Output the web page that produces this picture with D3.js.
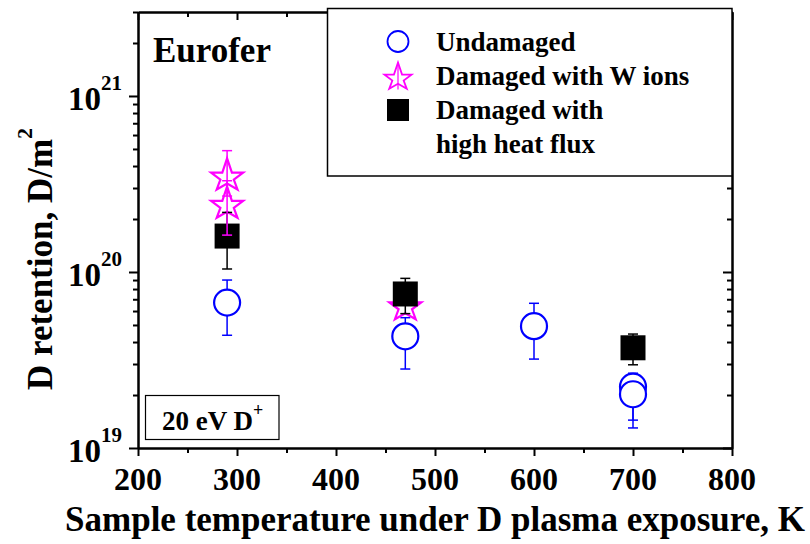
<!DOCTYPE html>
<html>
<head>
<meta charset="utf-8">
<script src="https://cdn.jsdelivr.net/npm/d3@7"></script>
<style>
  body { margin: 0; background: #fff; }
  text { font-family: "Liberation Serif", "Times New Roman", serif; font-weight: bold; fill: #000; }
</style>
</head>
<body>
<svg id="chart" width="810" height="544"></svg>
<script>
// ---- data ----
var xTicks = [200, 300, 400, 500, 600, 700, 800];
var xMinor = [250, 350, 450, 550, 650, 750];
var yExps = [19, 20, 21];

// undamaged (blue open circles)
var undamagedT  = [290, 470, 600, 700, 700];
var undamagedD  = [6.7e19, 4.31e19, 4.92e19, 2.23e19, 2.02e19];
var undamagedLo = [4.37e19, 2.81e19, 3.2e19, 1.44e19, 1.30e19];
var undamagedHi = [9.0e19, 5.5e19, 6.64e19, 2.66e19, 2.4e19];

// damaged with W ions (magenta stars)
var wIonsT  = [290, 290, 470];
var wIonsD  = [3.59e20, 2.48e20, 6.58e19];
var wIonsLo = [2.7e20, 1.62e20, 6.58e19];
var wIonsHi = [4.89e20, 3.3e20, 6.58e19];

// damaged with high heat flux (black squares)
var hhfT  = [290, 470, 700];
var hhfD  = [1.6e20, 7.5e19, 3.71e19];
var hhfLo = [1.04e20, 5.8e19, 2.97e19];
var hhfHi = [2.18e20, 9.2e19, 4.44e19];

var legendLabels = ["Undamaged", "Damaged with W ions", "Damaged with", "high heat flux"];

// ---- layout ----
var svg = d3.select("#chart");
var plotL = 138, plotR = 732, plotT = 12, plotB = 448;

var x = d3.scaleLinear().domain([200, 800]).range([plotL, plotR]);
var y = d3.scaleLog().domain([1e19, 3e21]).range([plotB, plotT]);

var yMajor = yExps.map(function(e) { return Math.pow(10, e); });
var yMinor = [];
yExps.forEach(function(e) {
  for (var m = 2; m <= 9; m++) {
    var v = m * Math.pow(10, e);
    if (v <= 3e21) yMinor.push(v);
  }
});

function styleAxis(g) {
  g.select(".domain").attr("stroke", "#000").attr("stroke-width", 2);
  g.selectAll(".tick line").attr("stroke", "#000").attr("stroke-width", 2);
  g.selectAll(".tick text").remove();
}

// bottom axis (ticks out)
svg.append("g").attr("transform", "translate(0," + plotB + ")")
  .call(d3.axisBottom(x).tickValues(xTicks).tickSize(8).tickSizeOuter(0)).call(styleAxis);
svg.append("g").attr("transform", "translate(0," + plotB + ")")
  .call(d3.axisBottom(x).tickValues(xMinor).tickSize(5).tickSizeOuter(0)).call(styleAxis);
// top axis (ticks in)
svg.append("g").attr("transform", "translate(0," + plotT + ")")
  .call(d3.axisBottom(x).tickValues(xTicks).tickSize(8).tickSizeOuter(0)).call(styleAxis);
svg.append("g").attr("transform", "translate(0," + plotT + ")")
  .call(d3.axisBottom(x).tickValues(xMinor).tickSize(5).tickSizeOuter(0)).call(styleAxis);
// left axis (ticks out)
svg.append("g").attr("transform", "translate(" + plotL + ",0)")
  .call(d3.axisLeft(y).tickValues(yMajor).tickSize(9).tickSizeOuter(0)).call(styleAxis);
svg.append("g").attr("transform", "translate(" + plotL + ",0)")
  .call(d3.axisLeft(y).tickValues(yMinor).tickSize(5).tickSizeOuter(0)).call(styleAxis);
// right axis (ticks in)
svg.append("g").attr("transform", "translate(" + plotR + ",0)")
  .call(d3.axisLeft(y).tickValues(yMajor).tickSize(9).tickSizeOuter(0)).call(styleAxis);
svg.append("g").attr("transform", "translate(" + plotR + ",0)")
  .call(d3.axisLeft(y).tickValues(yMinor).tickSize(5).tickSizeOuter(0)).call(styleAxis);

// tick labels
svg.append("g").selectAll("text").data(xTicks).enter().append("text")
  .attr("x", function(d) { return x(d); })
  .attr("y", 490)
  .attr("text-anchor", "middle")
  .attr("font-size", 32)
  .text(function(d) { return d; });

var yLab = svg.append("g").selectAll("text").data(yExps).enter().append("text")
  .attr("x", 122)
  .attr("y", function(d) { return y(Math.pow(10, d)) + 14; })
  .attr("text-anchor", "end")
  .attr("font-size", 33);
yLab.append("tspan").text("10");
yLab.append("tspan").attr("font-size", 21).attr("dy", -20).text(function(d) { return d; });

// axis titles
svg.append("text")
  .attr("x", (plotL + plotR) / 2)
  .attr("y", 531)
  .attr("text-anchor", "middle")
  .attr("font-size", 35)
  .text("Sample temperature under D plasma exposure, K");

var yTitle = svg.append("text")
  .attr("transform", "translate(52,390) rotate(-90)")
  .attr("font-size", 35);
yTitle.append("tspan").text("D retention, D/m");
yTitle.append("tspan").attr("font-size", 22).attr("dy", -20).text("2");

// ---- marks ----
var blue = "#0000ff", magenta = "#ff00ff";

function errorBars(T, Lo, Hi, color, cap) {
  var g = svg.append("g").attr("stroke", color).attr("stroke-width", 1.5);
  T.forEach(function(t, i) {
    if (Lo[i] === Hi[i]) return;
    var cx = x(t);
    g.append("line").attr("x1", cx).attr("x2", cx).attr("y1", y(Lo[i])).attr("y2", y(Hi[i]));
    g.append("line").attr("x1", cx - cap).attr("x2", cx + cap).attr("y1", y(Lo[i])).attr("y2", y(Lo[i]));
    g.append("line").attr("x1", cx - cap).attr("x2", cx + cap).attr("y1", y(Hi[i])).attr("y2", y(Hi[i]));
  });
}

// star shape used by the original plotting program
var starPts = [[0,-1],[0.3,-0.1],[1,-0.1],[0.42,0.33],[0.65,0.95],[0,0.58],
               [-0.65,0.95],[-0.42,0.33],[-1,-0.1],[-0.3,-0.1]];
function starPath(s) {
  return "M" + starPts.map(function(p) { return (p[0] * s) + "," + (p[1] * s); }).join("L") + "Z";
}

// undamaged
errorBars(undamagedT, undamagedLo, undamagedHi, blue, 5);
svg.append("g").selectAll("circle").data(undamagedT).enter().append("circle")
  .attr("cx", function(d) { return x(d); })
  .attr("cy", function(d, i) { return y(undamagedD[i]); })
  .attr("r", 13)
  .attr("fill", "#fff")
  .attr("stroke", blue)
  .attr("stroke-width", 2.2);

// stars (symbols)
svg.append("g").selectAll("path").data(wIonsT).enter().append("path")
  .attr("transform", function(d, i) { return "translate(" + x(d) + "," + y(wIonsD[i]) + ")"; })
  .attr("d", starPath(16))
  .attr("fill", "none")
  .attr("stroke", magenta)
  .attr("stroke-width", 2.2);

// high heat flux
errorBars(hhfT, hhfLo, hhfHi, "#000", 5);
svg.append("g").selectAll("rect").data(hhfT).enter().append("rect")
  .attr("x", function(d) { return x(d) - 12.5; })
  .attr("y", function(d, i) { return y(hhfD[i]) - 12.5; })
  .attr("width", 25)
  .attr("height", 25)
  .attr("fill", "#000");

// star error bars on top
errorBars(wIonsT, wIonsLo, wIonsHi, magenta, 5);

// ---- annotations ----
svg.append("text").attr("x", 153).attr("y", 62).attr("font-size", 35).text("Eurofer");

svg.append("rect").attr("x", 145.5).attr("y", 395.5).attr("width", 133.5).attr("height", 44)
  .attr("fill", "#fff").attr("stroke", "#000").attr("stroke-width", 1.2);
var ion = svg.append("text").attr("x", 162).attr("y", 430).attr("font-size", 27);
ion.append("tspan").text("20 eV D");
ion.append("tspan").attr("font-size", 18).attr("dy", -14).text("+");

// ---- legend ----
var lg = svg.append("g");
lg.append("rect").attr("x", 327.5).attr("y", 8.5).attr("width", 404.5).attr("height", 167.5)
  .attr("fill", "#fff").attr("stroke", "#000").attr("stroke-width", 1.5);
lg.append("circle").attr("cx", 398).attr("cy", 41.5).attr("r", 10.5)
  .attr("fill", "#fff").attr("stroke", blue).attr("stroke-width", 1.8);
lg.append("path").attr("transform", "translate(398,76)").attr("d", starPath(13.5))
  .attr("fill", "none").attr("stroke", magenta).attr("stroke-width", 1.8);
lg.append("line").attr("x1", 398).attr("x2", 398).attr("y1", 62.5).attr("y2", 89.5)
  .attr("stroke", magenta).attr("stroke-width", 1.2);
lg.append("rect").attr("x", 387).attr("y", 99).attr("width", 22).attr("height", 22).attr("fill", "#000");
lg.selectAll("text.lab").data(legendLabels).enter().append("text")
  .attr("class", "lab")
  .attr("x", 436)
  .attr("y", function(d, i) { return 50.5 + i * 34; })
  .attr("font-size", 27)
  .text(function(d) { return d; });
</script>
</body>
</html>
